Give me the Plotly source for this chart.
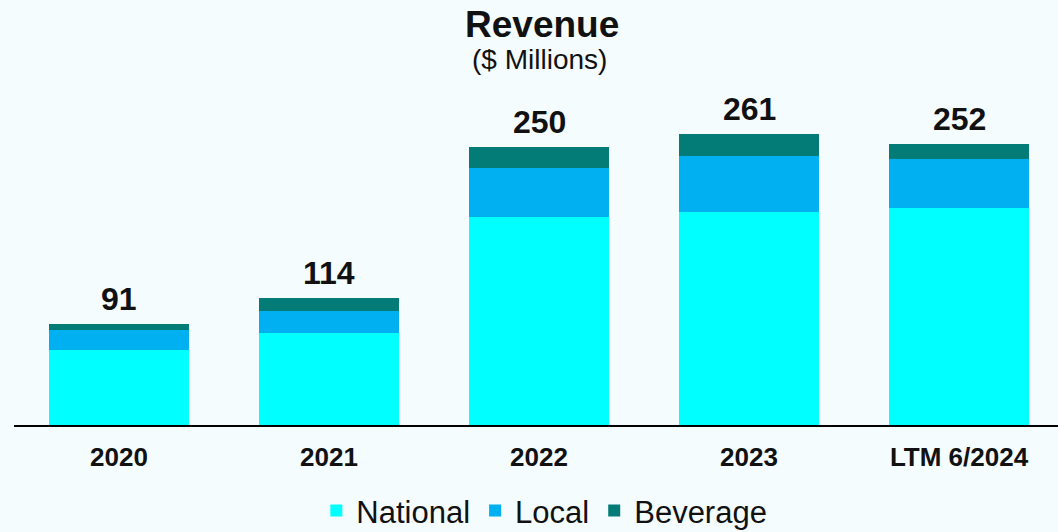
import plotly.graph_objects as go

# Revenue by segment, $ millions
periods = ["2020", "2021", "2022", "2023", "LTM 6/2024"]
national = [67, 83, 187, 191, 195]
local = [18, 19, 44, 51, 44]
beverage = [6, 12, 19, 19, 13]
totals = [91, 114, 250, 261, 252]

segments = [
    ("National", national, "#00FFFF"),
    ("Local", local, "#00B0F0"),
    ("Beverage", beverage, "#037B77"),
]

FONT = "Liberation Sans, Arial, sans-serif"
BG = "#F4FCFE"

fig = go.Figure()
for name, vals, color in segments:
    fig.add_trace(go.Bar(
        x=periods, y=vals, name=name,
        marker=dict(color=color, line=dict(width=0)),
        hoverinfo="skip",
    ))

# total labels above each stack (category index positions)
for i, t in enumerate(totals):
    fig.add_annotation(
        x=i, y=t, xref="x", yref="y", text=f"<b>{t}</b>",
        showarrow=False, yanchor="bottom", yshift=5,
        font=dict(family=FONT, size=32, color="#111111"),
    )

# title and units
fig.add_annotation(
    x=0.5057, y=1.198, xref="paper", yref="paper", text="<b>Revenue</b>",
    showarrow=False, xanchor="center", yanchor="middle",
    font=dict(family=FONT, size=37, color="#111111"),
)
fig.add_annotation(
    x=0.5034, y=1.095, xref="paper", yref="paper", text="($ Millions)",
    showarrow=False, xanchor="center", yanchor="middle",
    font=dict(family=FONT, size=28, color="#111111"),
)

fig.update_layout(
    barmode="stack",
    bargap=1 / 3,
    width=1058, height=532,
    margin=dict(l=14, r=0, t=91, b=107, autoexpand=False),
    paper_bgcolor=BG, plot_bgcolor=BG,
    showlegend=True,
    legend=dict(
        orientation="h", x=0.508, xanchor="center", y=-0.257, yanchor="middle",
        font=dict(family=FONT, size=31, color="#111111"),
        bgcolor="rgba(0,0,0,0)", traceorder="normal",
    ),
    xaxis=dict(
        type="category",
        range=[-0.5, 4.4714], showgrid=False, zeroline=False,
        showline=True, linecolor="#000000", linewidth=2,
        ticks="", tickfont=dict(family=FONT, size=26, color="#111111"),
        tickprefix="<b>", ticksuffix="</b>",
        ticklabelstandoff=8,
    ),
    yaxis=dict(
        range=[0, 300], visible=False, showgrid=False, zeroline=False,
    ),
)

fig.write_html("out.html")
